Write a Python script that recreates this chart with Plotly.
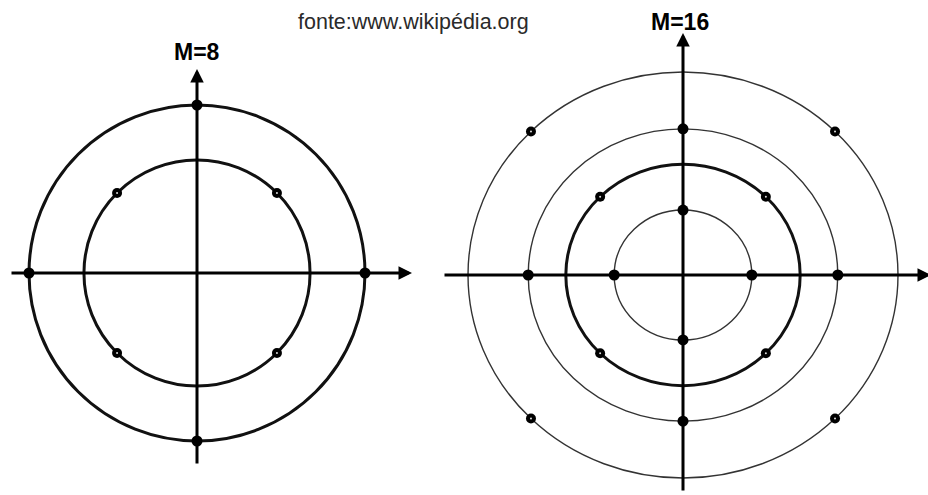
import numpy as np
import plotly.graph_objects as go

# ---------------- data ----------------
m8_rings = [0.673, 1.0]
m8_amp = [1.0, 1.0, 1.0, 1.0, 0.673, 0.673, 0.673, 0.673]
m8_phase = [0, 90, 180, 270, 45, 135, 225, 315]
m8_kind = ["solid", "dot", "solid", "dot", "ring", "ring", "ring", "ring"]

m16_rings = [0.32, 0.545, 0.72, 1.0]
m16_amp = [0.32] * 4 + [0.545] * 4 + [0.72] * 4 + [1.0] * 4
m16_phase = [0, 90, 180, 270, 45, 135, 225, 315,
             0, 90, 180, 270, 45, 135, 225, 315]
m16_kind = ["dot", "solid", "dot", "solid"] + ["ring"] * 4 + ["solid"] * 4 + ["ring"] * 4

titles = ["M=8", "M=16"]
source = "fonte:www.wikipédia.org"

# ---------------- layout / style ----------------
W, H = 928, 495
panels = [
    dict(xa="x", ya="y", cx=197, cy=273, sx=168, sy=168, dom=[0.0, 0.465],
         rings=m8_rings, ring_w=[3, 3], amp=m8_amp, ph=m8_phase, kind=m8_kind,
         hline=(10, 412), vline=(465, 69), title_xy=(197, 52)),
    dict(xa="x2", ya="y2", cx=683, cy=275, sx=215, sy=203, dom=[0.465, 1.0],
         rings=m16_rings, ring_w=[1.4, 3, 1.4, 1.4], amp=m16_amp, ph=m16_phase, kind=m16_kind,
         hline=(443, 931), vline=(492, 33), title_xy=(680, 22)),
]

fig = go.Figure()
shapes = []
annotations = []
layout_axes = {}

for i, p in enumerate(panels):
    cx, cy, sx, sy = p["cx"], p["cy"], p["sx"], p["sy"]
    x0p, x1p = p["dom"][0] * W, p["dom"][1] * W
    xr = [(x0p - cx) / sx, (x1p - cx) / sx]
    yr = [-(H - cy) / sy, cy / sy]
    suffix = "" if i == 0 else "2"
    layout_axes["xaxis" + suffix] = dict(domain=p["dom"], range=xr, visible=False, fixedrange=True)
    layout_axes["yaxis" + suffix] = dict(domain=[0, 1], range=yr, visible=False, fixedrange=True)

    # rings
    for r, w in zip(p["rings"], p["ring_w"]):
        shapes.append(dict(type="circle", xref=p["xa"], yref=p["ya"],
                           x0=-r, x1=r, y0=-r, y1=r,
                           line=dict(color="#111" if w > 2 else "#333", width=w),
                           layer="below"))

    # axes with arrows
    hx0 = (p["hline"][0] - cx) / sx
    hx1 = (p["hline"][1] - cx) / sx
    vy0 = -(p["vline"][0] - cy) / sy
    vy1 = -(p["vline"][1] - cy) / sy
    for (ax_, ay_, x_, y_) in [(hx0, 0, hx1, 0), (0, vy0, 0, vy1)]:
        annotations.append(dict(xref=p["xa"], yref=p["ya"], axref=p["xa"], ayref=p["ya"],
                                x=x_, y=y_, ax=ax_, ay=ay_, text="", showarrow=True,
                                arrowhead=2, arrowsize=0.9, arrowwidth=3, arrowcolor="#000",
                                standoff=0, startstandoff=0))

    # constellation points
    amp = np.array(p["amp"])
    ph = np.deg2rad(np.array(p["ph"]))
    xs = amp * np.cos(ph)
    ys = amp * np.sin(ph)
    kinds = np.array(p["kind"])
    sizes = np.where(kinds == "ring", 10, 11)
    fig.add_trace(go.Scatter(x=xs, y=ys, mode="markers", xaxis=p["xa"], yaxis=p["ya"],
                             marker=dict(color="#000", size=sizes, symbol="circle",
                                         opacity=1, line=dict(width=0)),
                             cliponaxis=False, hoverinfo="skip", showlegend=False))
    m = kinds != "solid"
    fig.add_trace(go.Scatter(x=xs[m], y=ys[m], mode="markers", xaxis=p["xa"], yaxis=p["ya"],
                             marker=dict(color="#ddd", size=2, symbol="circle",
                                         opacity=1, line=dict(width=0)),
                             cliponaxis=False, hoverinfo="skip", showlegend=False))

    tx, ty = p["title_xy"]
    annotations.append(dict(xref="paper", yref="paper", x=tx / W, y=1 - ty / H,
                            xanchor="center", yanchor="middle", showarrow=False,
                            text="<b>%s</b>" % titles[i],
                            font=dict(family="Liberation Sans, Arial", size=23, color="#000")))

annotations.append(dict(xref="paper", yref="paper", x=413 / W, y=1 - 22 / H,
                        xanchor="center", yanchor="middle", showarrow=False,
                        text=source,
                        font=dict(family="Liberation Sans, Arial", size=21.5, color="#2a2a2a")))

fig.update_layout(width=W, height=H, margin=dict(l=0, r=0, t=0, b=0),
                  paper_bgcolor="#fff", plot_bgcolor="#fff",
                  shapes=shapes, annotations=annotations, showlegend=False,
                  **layout_axes)

fig.write_html("out.html", config=dict(displayModeBar=False),
               post_script="document.body.style.margin='0';document.body.style.padding='0';")
